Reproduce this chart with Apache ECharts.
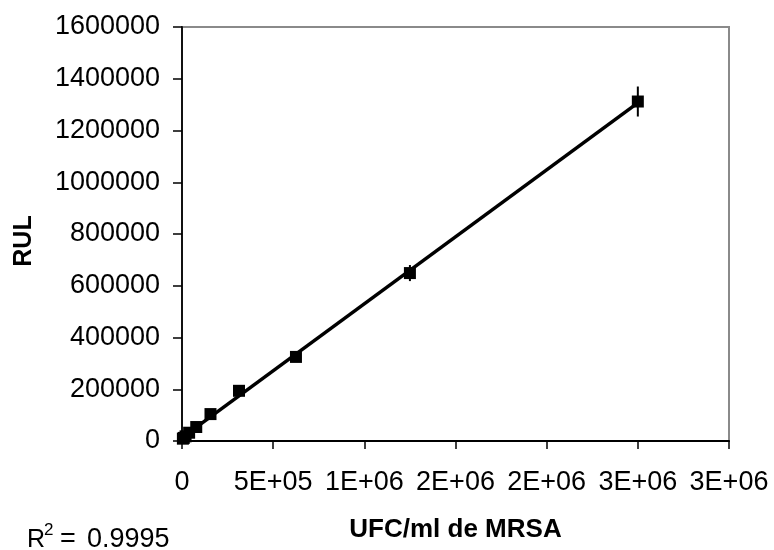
<!DOCTYPE html>
<html>
<head>
<meta charset="utf-8">
<title>RUL vs UFC/ml de MRSA</title>
<script src="https://cdn.jsdelivr.net/npm/echarts@6/dist/echarts.min.js"></script>
<style>
  html, body { margin: 0; padding: 0; background: #fff; }
  #chart { width: 774px; height: 550px; }
</style>
</head>
<body>
<div id="chart"></div>
<script>
// Bacterial concentration (UFC/ml) of each dilution
var concentrations = [2500000, 1250000, 625000, 312500, 156250, 78125, 39063, 19531, 9766, 4883];
// Mean luminescence (RUL) measured for each dilution
var rulMeans = [1312000, 649000, 325000, 194000, 104000, 54000, 32000, 18000, 12000, 9000];
// Standard deviation of each mean (error bar half-length)
var rulErrors = [58000, 31000, 9000, 6000, 4000, 3000, 2000, 1500, 1000, 800];

// Axis tick labels
var xTickLabels = ['0', '5E+05', '1E+06', '2E+06', '2E+06', '3E+06', '3E+06'];
var xTickStep = 500000;
var yTickStep = 200000;
var rSquaredText = '0.9995';

var FONT = '"Liberation Sans", Arial, sans-serif';

// Least-squares linear trendline through the measured points
function linearFit(xs, ys) {
  var n = xs.length, sx = 0, sy = 0, sxx = 0, sxy = 0;
  for (var i = 0; i < n; i++) {
    sx += xs[i]; sy += ys[i];
    sxx += xs[i] * xs[i]; sxy += xs[i] * ys[i];
  }
  var slope = (n * sxy - sx * sy) / (n * sxx - sx * sx);
  var intercept = (sy - slope * sx) / n;
  return { slope: slope, intercept: intercept };
}
var fit = linearFit(concentrations, rulMeans);
var xMin = Math.min.apply(null, concentrations);
var xMax = Math.max.apply(null, concentrations);
var trendData = [
  [xMin, fit.intercept + fit.slope * xMin],
  [xMax, fit.intercept + fit.slope * xMax]
];

var points = concentrations.map(function (c, i) { return [c, rulMeans[i]]; });
var errorData = concentrations.map(function (c, i) {
  return [c, rulMeans[i] - rulErrors[i], rulMeans[i] + rulErrors[i]];
});

var chart = echarts.init(document.getElementById('chart'), null, { renderer: 'canvas' });

chart.setOption({
  backgroundColor: '#ffffff',
  animation: false,
  textStyle: { fontFamily: FONT },
  grid: {
    left: 182, right: 45, top: 27, bottom: 109,
    show: true, borderColor: '#8a8a8a', borderWidth: 2, backgroundColor: 'transparent'
  },
  xAxis: {
    type: 'value',
    min: 0, max: 3000000, interval: xTickStep,
    name: 'UFC/ml de MRSA',
    nameLocation: 'middle',
    nameGap: 76,
    nameTextStyle: { fontFamily: FONT, fontSize: 26, fontWeight: 'bold', color: '#000' },
    axisLine: { show: true, lineStyle: { color: '#000', width: 2 } },
    axisTick: { show: true, inside: false, length: 8, lineStyle: { color: '#000', width: 1.5 } },
    splitLine: { show: false },
    axisLabel: {
      margin: 28,
      fontFamily: FONT, fontSize: 27, color: '#000',
      formatter: function (v) {
        var idx = Math.round(v / xTickStep);
        return xTickLabels[idx] !== undefined ? xTickLabels[idx] : '';
      }
    }
  },
  yAxis: {
    type: 'value',
    min: 0, max: 1600000, interval: yTickStep,
    axisLine: { show: true, lineStyle: { color: '#111', width: 2 } },
    axisTick: { show: true, inside: false, length: 9, lineStyle: { color: '#000', width: 1.5 } },
    splitLine: { show: false },
    axisLabel: {
      margin: 22,
      fontFamily: FONT, fontSize: 27, color: '#000',
      formatter: function (v) { return String(v); }
    }
  },
  graphic: [
    {
      type: 'text', x: 24, y: 241, rotation: Math.PI / 2,
      style: {
        text: 'RUL', fontFamily: FONT, fontSize: 25, fontWeight: 'bold', fill: '#000',
        align: 'center', verticalAlign: 'middle'
      }
    },
    {
      type: 'text', x: 27, y: 540,
      style: { text: 'R', fontFamily: FONT, fontSize: 25, fill: '#000', align: 'left', verticalAlign: 'middle' }
    },
    {
      type: 'text', x: 44, y: 530,
      style: { text: '2', fontFamily: FONT, fontSize: 17, fill: '#000', align: 'left', verticalAlign: 'middle' }
    },
    {
      type: 'text', x: 60, y: 540,
      style: { text: '=', fontFamily: FONT, fontSize: 27, fill: '#000', align: 'left', verticalAlign: 'middle' }
    },
    {
      type: 'text', x: 87, y: 540,
      style: { text: rSquaredText, fontFamily: FONT, fontSize: 27, fill: '#000', align: 'left', verticalAlign: 'middle' }
    }
  ],
  series: [
    {
      name: 'trend',
      type: 'line',
      data: trendData,
      symbol: 'none',
      lineStyle: { color: '#000', width: 3.5 },
      z: 2,
      silent: true
    },
    {
      name: 'RUL',
      type: 'scatter',
      data: points,
      symbol: 'rect',
      symbolSize: 12,
      itemStyle: { color: '#000', opacity: 1 },
      z: 3
    },
    {
      name: 'error',
      type: 'custom',
      data: errorData,
      z: 4,
      renderItem: function (params, api) {
        var lo = api.coord([api.value(0), api.value(1)]);
        var hi = api.coord([api.value(0), api.value(2)]);
        return {
          type: 'line',
          shape: { x1: lo[0], y1: lo[1], x2: hi[0], y2: hi[1] },
          style: { stroke: '#000', lineWidth: 2 }
        };
      },
      encode: { x: 0, y: [1, 2] }
    }
  ]
});
</script>
</body>
</html>
